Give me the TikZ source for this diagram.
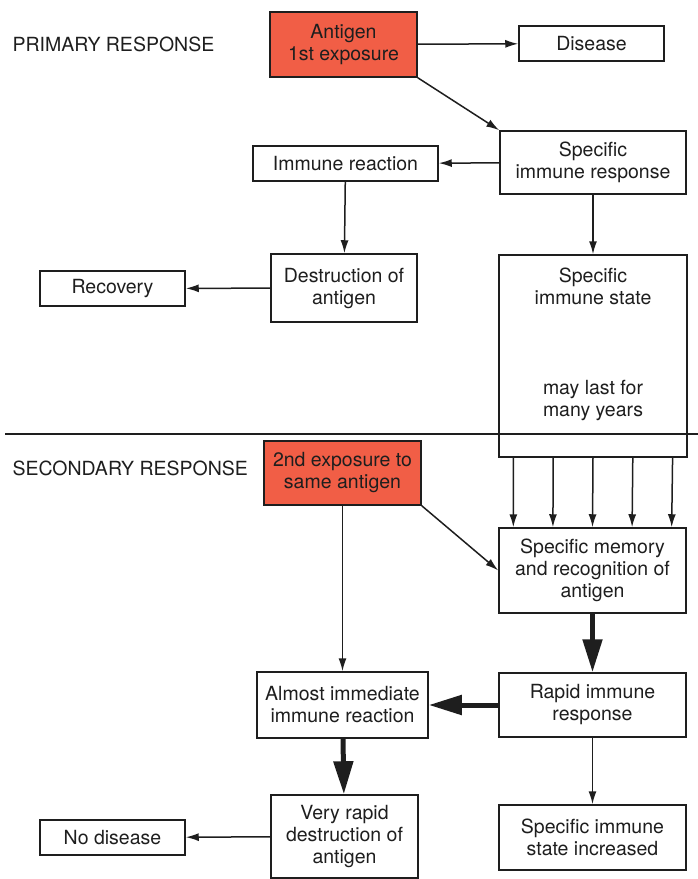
\documentclass[tikz,border=0pt]{standalone}
\usepackage{fontspec}
\setmainfont{TeX Gyre Heros}
\usetikzlibrary{arrows.meta,calc}
\definecolor{antigenred}{RGB}{241,94,70}
\definecolor{inkgray}{RGB}{30,30,30}

\begin{document}
\begin{tikzpicture}[x=1pt, y=-1pt, >={Latex[length=13pt,width=8pt]},
    every node/.style={font=\fontsize{19.5}{22}\selectfont, text=inkgray},
    box/.style={draw=inkgray, line width=1.5pt, fill=white, align=center, inner sep=0pt},
    exposure/.style={box, fill=antigenred},
    link/.style={draw=inkgray, line width=1.5pt, ->},
    heavy/.style={draw=inkgray, line width=5pt, -{Triangle[length=33pt,width=19pt]}}]
    \useasboundingbox (0,0) rectangle (698,879);

    % Primary response
    \node[anchor=west] (primary) at (9,44) {PRIMARY RESPONSE};
    \node[exposure, minimum width=147pt, minimum height=65pt] (antigen) at (343.5,44.5) {Antigen\\1st exposure};
    \node[box, minimum width=145pt, minimum height=35pt] (disease) at (591.5,43.5) {Disease};
    \node[box, minimum width=186pt, minimum height=63pt] (response) at (593,162.5) {Specific\\immune response};
    \node[box, minimum width=185pt, minimum height=35pt] (reaction) at (345.5,163.5) {Immune reaction};
    \node[box, minimum width=146pt, minimum height=68pt] (destroy) at (344,288) {Destruction of\\antigen};
    \node[box, minimum width=145pt, minimum height=35pt] (recovery) at (112.5,288.5) {Recovery};
    \node[box, minimum width=188pt, minimum height=202pt] (state) at (593,356) {};
    \node[align=center] (statetop) at (593,286) {Specific\\immune state};
    \node[align=center] (statebottom) at (593,400) {may last for\\many years};

    \draw[link] (antigen) -- (disease);
    \draw[link] (antigen.south east) -- (response.north west);
    \draw[link] (response) -- (reaction);
    \draw[link] (reaction) -- (destroy);
    \draw[link] (response) -- (state);
    \draw[link] (destroy) -- (recovery);

    % Dividing line
    \draw[draw=inkgray, line width=2.4pt] (5,434) -- (698,434);

    % Secondary response
    \node[anchor=west] (secondary) at (9,468) {SECONDARY RESPONSE};
    \node[exposure, minimum width=157pt, minimum height=64pt] (second) at (342.5,473) {2nd exposure to\\same antigen};
    \node[box, minimum width=187pt, minimum height=85pt] (memory) at (592.5,570.5) {Specific memory\\and recognition of\\antigen};
    \node[box, minimum width=187pt, minimum height=64pt] (rapid) at (592.5,705) {Rapid immune\\response};
    \node[box, minimum width=171pt, minimum height=66pt] (immediate) at (342.5,705) {Almost immediate\\immune reaction};
    \node[box, minimum width=147pt, minimum height=83pt] (rapiddestroy) at (344.5,836.5) {Very rapid\\destruction of\\antigen};
    \node[box, minimum width=145pt, minimum height=35pt] (nodisease) at (112.5,837.5) {No disease};
    \node[box, minimum width=187pt, minimum height=65pt] (increased) at (592.5,837.5) {Specific immune\\state increased};

    \foreach \f in {0.08,0.29,0.5,0.71,0.92}
        \draw[link] ($(state.south west)!\f!(state.south east)$) -- ($(memory.north west)!\f!(memory.north east)$);
    \draw[link] (second) -- (immediate);
    \draw[link] (second.south east) -- (memory.west);
    \draw[heavy] (memory) -- (rapid);
    \draw[heavy] (rapid) -- (immediate);
    \draw[heavy] (immediate) -- (rapiddestroy);
    \draw[link] (rapiddestroy) -- (nodisease);
    \draw[link] (rapid) -- (increased);
\end{tikzpicture}
\end{document}
